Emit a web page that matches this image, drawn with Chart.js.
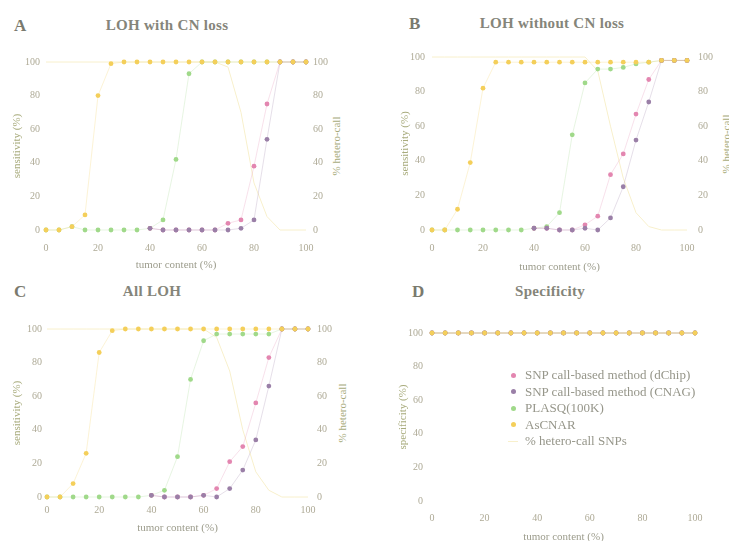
<!DOCTYPE html>
<html>
<head>
<meta charset="utf-8">
<script src="https://cdn.jsdelivr.net/npm/chart.js@4.4.1/dist/chart.umd.min.js"></script>
<style>
body { margin:0; background:#fff; width:729px; height:541px; overflow:hidden; position:relative; font-family:'Liberation Serif', serif; }
canvas, .txt { position:absolute; }
.letter { font-size:17px; font-weight:bold; color:#7a7a6e; }
.title { font-size:15px; font-weight:bold; color:#85857a; transform:translateX(-50%); white-space:nowrap; letter-spacing:0.3px; }
.rtitle { font-size:11px; color:#a8ab7c; transform:translate(-50%,-50%) rotate(-90deg); white-space:nowrap; }
#legend { position:absolute; left:508px; top:367px; font-size:13px; color:#96968a; line-height:16.5px; }
#legend span.dot { display:inline-block; width:5px; height:5px; border-radius:3px; margin:0 9px 2px 3px; vertical-align:middle; }
#legend span.ln { display:inline-block; width:10px; height:1px; margin:0 7px 2px 0; vertical-align:middle; }
</style>
</head>
<body>
<div class="txt letter" style="left:14px;top:16px">A</div>
<div class="txt title" style="left:167px;top:17px">LOH with CN loss</div>
<div class="txt letter" style="left:409px;top:14px">B</div>
<div class="txt title" style="left:552px;top:15px">LOH without CN loss</div>
<div class="txt letter" style="left:14px;top:282px">C</div>
<div class="txt title" style="left:152px;top:283px">All LOH</div>
<div class="txt letter" style="left:412px;top:282px">D</div>
<div class="txt title" style="left:550px;top:283px">Specificity</div>

<div class="txt rtitle" style="left:336px;top:146px">% hetero-call</div>
<div class="txt rtitle" style="left:726px;top:144px">% hetero-call</div>
<div class="txt rtitle" style="left:342px;top:413px">% hetero-call</div>

<canvas id="cA"></canvas>
<canvas id="cB"></canvas>
<canvas id="cC"></canvas>
<canvas id="cD"></canvas>
<div id="legend"></div>

<script>
// tumor content (%) on the x axis
var tumor = [0, 5, 10, 15, 20, 25, 30, 35, 40, 45, 50, 55, 60, 65, 70, 75, 80, 85, 90, 95, 100];
var tickValues = [0, 20, 40, 60, 80, 100];

var names = ['SNP call-based method (dChip)', 'SNP call-based method (CNAG)', 'PLASQ(100K)', 'AsCNAR', '% hetero-call SNPs'];

// A  LOH with CN loss
var dchipA  = [null, null, null, null, null, null, null, null, 1, 0, 0, 0, 0, 0, 4, 6, 38, 75, 100, 100, 100];
var cnagA   = [null, null, null, null, null, null, null, null, 1, 0, 0, 0, 0, 0, 0, 1, 6, 54, 100, 100, 100];
var plasqA  = [0, 0, 2, 0, 0, 0, 0, 0, 1, 6, 42, 93, 100, 100, 100, 100, 100, 100, 100, 100, 100];
var ascnarA = [0, 0, 2, 9, 80, 99, 100, 100, 100, 100, 100, 100, 100, 100, 100, 100, 100, 100, 100, 100, 100];
var heteroA = [100, 100, 100, 100, 100, 100, 100, 100, 100, 100, 100, 100, 100, 100, 97, 70, 28, 8, 0, 0, 0];

// B  LOH without CN loss
var dchipB  = [null, null, null, null, null, null, null, null, 1, 1, 0, 0, 3, 8, 32, 44, 67, 87, 98, 98, 98];
var cnagB   = [null, null, null, null, null, null, null, null, 1, 1, 0, 0, 1, 0, 7, 25, 52, 74, 98, 98, 98];
var plasqB  = [0, 0, 0, 0, 0, 0, 0, 0, 1, 2, 10, 55, 85, 93, 93, 94, 96, 97, 98, 98, 98];
var ascnarB = [0, 0, 12, 39, 82, 97, 97, 97, 97, 97, 97, 97, 97, 97, 97, 97, 97, 97, 98, 98, 98];
var heteroB = [100, 100, 100, 100, 100, 100, 100, 100, 100, 100, 100, 100, 100, 92, 60, 30, 10, 2, 0, 0, 0];

// C  All LOH
var dchipC  = [null, null, null, null, null, null, null, null, 1, 0, 0, 0, 1, 5, 21, 30, 56, 83, 100, 100, 100];
var cnagC   = [null, null, null, null, null, null, null, null, 1, 0, 0, 0, 1, 0, 5, 16, 34, 66, 100, 100, 100];
var plasqC  = [0, 0, 0, 0, 0, 0, 0, 0, 1, 4, 24, 70, 93, 97, 97, 97, 97, 97, 100, 100, 100];
var ascnarC = [0, 0, 8, 26, 86, 99, 100, 100, 100, 100, 100, 100, 100, 100, 100, 100, 100, 100, 100, 100, 100];
var heteroC = [100, 100, 100, 100, 100, 100, 100, 100, 100, 100, 100, 100, 100, 95, 75, 40, 15, 4, 0, 0, 0];

// D  Specificity
var dchipD  = [100, 100, 100, 100, 100, 100, 100, 100, 100, 100, 100, 100, 100, 100, 100, 100, 100, 100, 100, 100, 100];
var cnagD   = [100, 100, 100, 100, 100, 100, 100, 100, 100, 100, 100, 100, 100, 100, 100, 100, 100, 100, 100, 100, 100];
var plasqD  = [100, 100, 100, 100, 100, 100, 100, 100, 100, 100, 100, 100, 100, 100, 100, 100, 100, 100, 100, 100, 100];
var ascnarD = [100, 100, 100, 100, 100, 100, 100, 100, 100, 100, 100, 100, 100, 100, 100, 100, 100, 100, 100, 100, 100];
var heteroD = [100, 100, 100, 100, 100, 100, 100, 100, 100, 100, 100, 100, 100, 100, 100, 100, 100, 100, 100, 100, 100];

var colors = ['#e386b0', '#9a7fa7', '#a0d98a', '#f4cf5a', '#f8f0cc'];
var drawOrder = [2, 1, 3, 0, 4];   // lower = drawn on top
var tickColor = '#aeaa96';
var axisColor = '#a8ab7c';

function pts(arr) {
    return tumor.map(function(t, i) { return {x: t, y: arr[i]}; });
}

function makeSets(list, rightAxis) {
    var sets = [];
    for (var i = 0; i < list.length; i++) {
        var hetero = (i == 4);
        sets.push({
            label: names[i],
            data: pts(list[i]),
            yAxisID: hetero && rightAxis ? 'y2' : 'y',
            borderColor: hetero ? colors[i] : colors[i] + '40',
            backgroundColor: colors[i],
            borderWidth: 1,
            pointRadius: hetero ? 0 : 2.4,
            pointHoverRadius: hetero ? 0 : 2.4,
            pointBorderWidth: 0,
            order: drawOrder[i],
            clip: false
        });
    }
    return sets;
}

function setTicks(scale) {
    scale.ticks = tickValues.map(function(v) { return {value: v}; });
}

// g: canvas box and plot area in page pixels
function panel(id, g, sets, yTitle, rightAxis) {
    var cv = document.getElementById(id);
    cv.style.left = g.x + 'px';
    cv.style.top = g.y + 'px';
    cv.width = g.w;
    cv.height = g.h;

    var tickFont = {family: 'Liberation Serif', size: 10};
    var axisFont = {family: 'Liberation Serif', size: 11};

    var scales = {
        x: {
            type: 'linear', min: 0, max: 100,
            afterBuildTicks: setTicks,
            grid: {display: false, drawTicks: false}, border: {display: false},
            ticks: {font: tickFont, color: tickColor, padding: g.xLab - g.b - 6, maxRotation: 0},
            title: {display: true, text: 'tumor content (%)', font: axisFont, color: '#9c9c8c',
                    padding: {top: 0, bottom: g.y + g.h - g.xTitle - 6.6}},
            afterFit: function(s) { s.height = g.y + g.h - g.b; }
        },
        y: {
            position: 'left', min: 0, max: 100,
            afterBuildTicks: setTicks,
            grid: {display: false, drawTicks: false}, border: {display: false},
            ticks: {font: tickFont, color: tickColor, padding: g.l - g.yLab},
            title: {display: true, text: yTitle, font: axisFont, color: axisColor,
                    padding: {top: g.yTitleX - g.x - 6.6, bottom: 0}},
            afterFit: function(s) { s.width = g.l - g.x; }
        }
    };
    if (rightAxis) {
        scales.y2 = {
            position: 'right', min: 0, max: 100,
            afterBuildTicks: setTicks,
            grid: {display: false, drawTicks: false}, border: {display: false},
            ticks: {font: tickFont, color: tickColor, padding: g.rLab - g.r},
            afterFit: function(s) { s.width = g.x + g.w - g.r; }
        };
    }

    return new Chart(cv.getContext('2d'), {
        type: 'line',
        data: {datasets: sets},
        options: {
            responsive: false,
            animation: false,
            layout: {padding: {top: g.t - g.y, left: 0, bottom: 0, right: rightAxis ? 0 : g.x + g.w - g.r}},
            plugins: {legend: {display: false}, tooltip: {enabled: false}},
            scales: scales
        }
    });
}

panel('cA', {x: 0, y: 40, w: 365, h: 240, l: 46, r: 306, t: 62, b: 230, xLab: 248, xTitle: 265, yLab: 40, yTitleX: 17, rLab: 313},
      makeSets([dchipA, cnagA, plasqA, ascnarA, heteroA], true), 'sensitivity (%)', true);
panel('cB', {x: 365, y: 40, w: 364, h: 240, l: 432, r: 687, t: 57, b: 230, xLab: 248, xTitle: 267, yLab: 425, yTitleX: 405, rLab: 698},
      makeSets([dchipB, cnagB, plasqB, ascnarB, heteroB], true), 'sensitivity (%)', true);
panel('cC', {x: 0, y: 305, w: 365, h: 240, l: 47, r: 308, t: 329, b: 497, xLab: 510, xTitle: 528, yLab: 42, yTitleX: 17, rLab: 317},
      makeSets([dchipC, cnagC, plasqC, ascnarC, heteroC], true), 'sensitivity (%)', true);
panel('cD', {x: 365, y: 305, w: 364, h: 240, l: 432, r: 695, t: 333, b: 501, xLab: 518, xTitle: 537, yLab: 423, yTitleX: 403},
      makeSets([dchipD, cnagD, plasqD, ascnarD, heteroD], false), 'specificity (%)', false);

// legend inside panel D
var lg = document.getElementById('legend');
for (var i = 0; i < names.length; i++) {
    var row = document.createElement('div');
    var mk = document.createElement('span');
    mk.className = (i == 4) ? 'ln' : 'dot';
    mk.style.background = colors[i];
    row.appendChild(mk);
    row.appendChild(document.createTextNode(names[i]));
    lg.appendChild(row);
}
</script>
</body>
</html>
